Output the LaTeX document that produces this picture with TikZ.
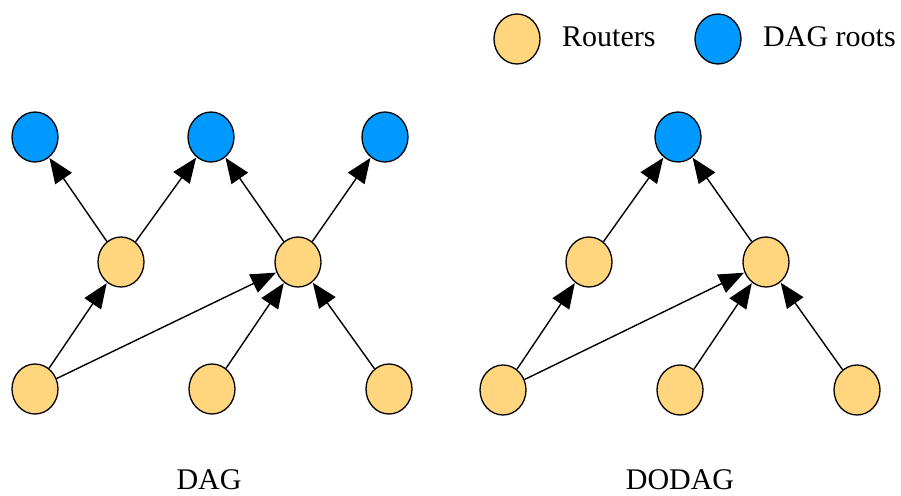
\documentclass[tikz,border=0pt]{standalone}
\usepackage{fontspec}
\setmainfont{Liberation Serif}
\usetikzlibrary{shapes.geometric,arrows.meta}
\definecolor{router}{HTML}{FFD57E}
\definecolor{rootc}{HTML}{0099FF}
\tikzset{
  nd/.style={ellipse,draw=black,line width=1.3pt,minimum width=46pt,minimum height=50pt,inner sep=0pt},
  rt/.style={nd,fill=router},
  dr/.style={nd,fill=rootc},
  edge/.style={line width=1.4pt,-{Triangle[length=25pt,width=20pt]},shorten >=0.5pt},
  lbl/.style={font=\fontsize{30pt}{36pt}\selectfont,inner sep=0pt}
}
\begin{document}
\begin{tikzpicture}[x=1pt,y=-1pt]
\useasboundingbox (0,0) rectangle (901,495);
% legend
\node[rt] (lr) at (517,39) {};
\node[lbl,anchor=base west] (lrt) at (562,46) {Routers};
\node[dr] (ld) at (718,39) {};
\node[lbl,anchor=base west] (ldt) at (763,46) {DAG roots};
% DAG
\node[dr] (a1) at (35,137) {};
\node[dr] (a2) at (211,137) {};
\node[dr] (a3) at (385,137) {};
\node[rt] (am1) at (121,262) {};
\node[rt] (am2) at (298,262) {};
\node[rt] (ab1) at (35,389) {};
\node[rt] (ab2) at (212,389) {};
\node[rt] (ab3) at (389,389) {};
\draw[edge] (am1) -- (a1);
\draw[edge] (am1) -- (a2);
\draw[edge] (am2) -- (a2);
\draw[edge] (am2) -- (a3);
\draw[edge] (ab1) -- (am1);
\draw[edge] (ab1) -- (am2);
\draw[edge] (ab2) -- (am2);
\draw[edge] (ab3) -- (am2);
\node[lbl,anchor=base] (dagl) at (209,489.5) {DAG};
% DODAG
\node[dr] (r) at (678,137) {};
\node[rt] (m1) at (589,262) {};
\node[rt] (m2) at (766,262) {};
\node[rt] (b1) at (503,390) {};
\node[rt] (b2) at (680,390) {};
\node[rt] (b3) at (857,390) {};
\draw[edge] (m1) -- (r);
\draw[edge] (m2) -- (r);
\draw[edge] (b1) -- (m1);
\draw[edge] (b1) -- (m2);
\draw[edge] (b2) -- (m2);
\draw[edge] (b3) -- (m2);
\node[lbl,anchor=base] (dodagl) at (680,489.5) {DODAG};
\end{tikzpicture}
\end{document}
